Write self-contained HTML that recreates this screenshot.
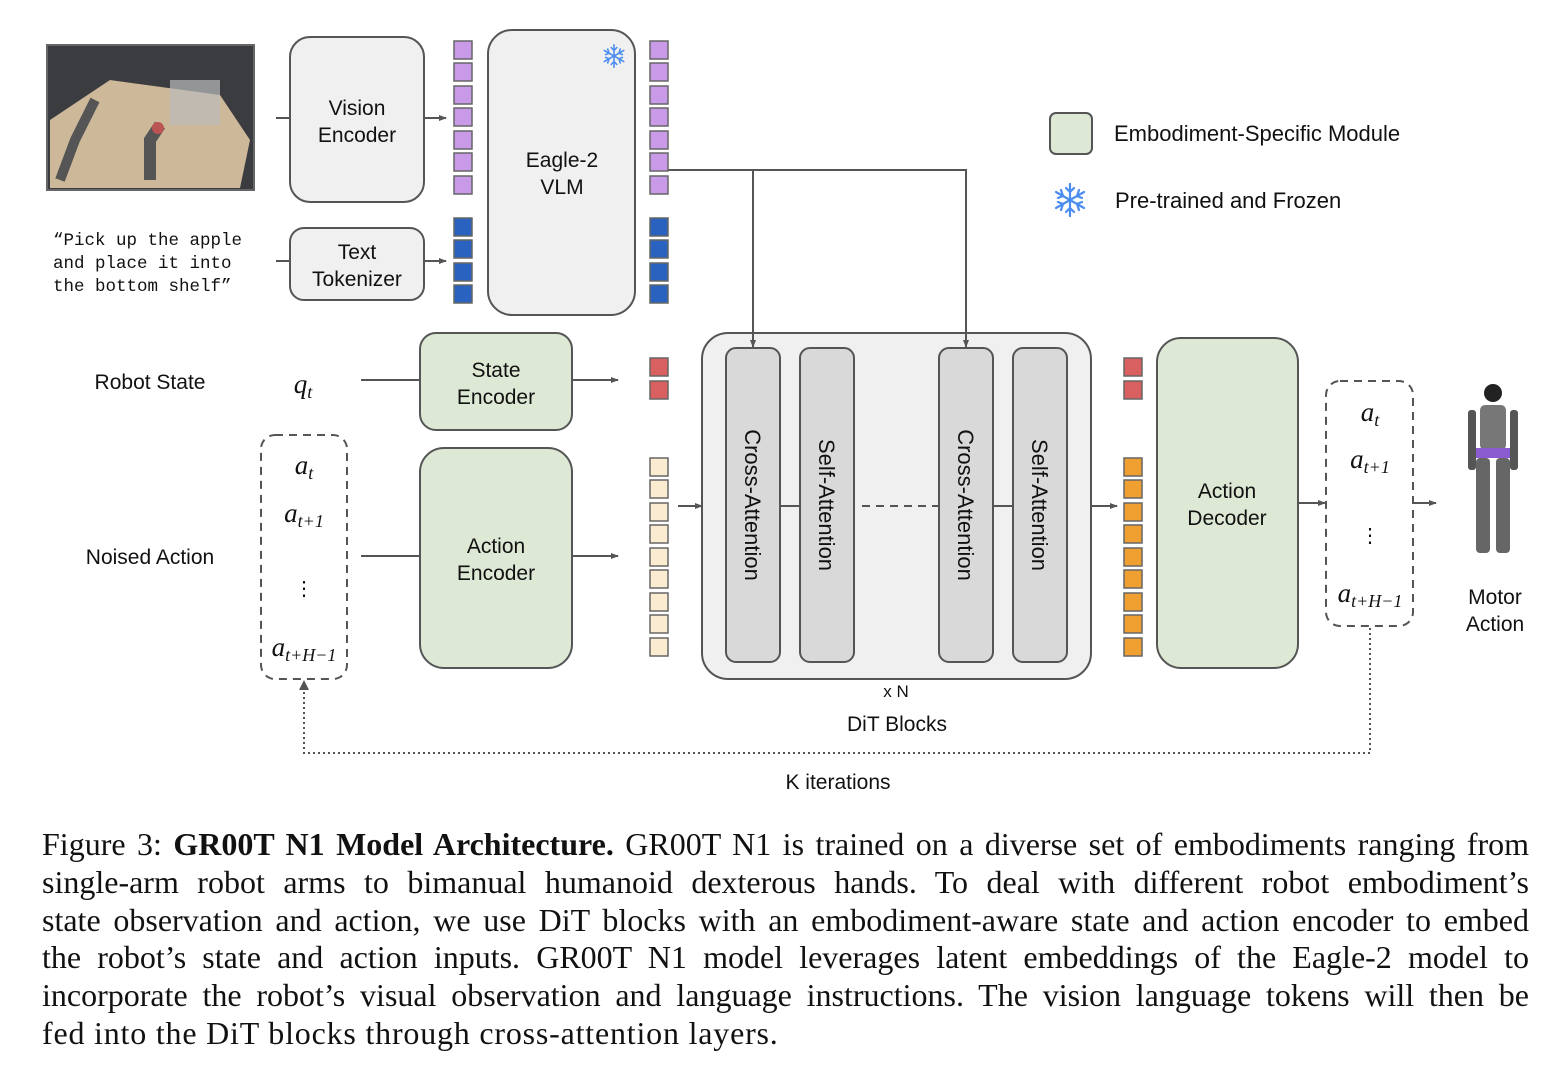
<!DOCTYPE html>
<html><head><meta charset="utf-8"><style>
body{margin:0;background:#fff;width:1560px;height:1088px;overflow:hidden;position:relative}
svg{position:absolute;left:0;top:0}
.cap{position:absolute;left:42px;top:826px;width:1487px;font-family:"Liberation Serif",serif;font-size:32px;line-height:37.8px;color:#111}
.cap div{text-align:justify;text-align-last:justify;white-space:nowrap}
.cap div.l{text-align-last:left;letter-spacing:0.8px}
</style></head><body>
<svg width="1560" height="1088" font-family="Liberation Sans, sans-serif">
<defs>
<marker id="a" markerWidth="8" markerHeight="8" refX="7" refY="4" orient="auto" markerUnits="userSpaceOnUse"><path d="M0,1 L8,4 L0,7z" fill="#555"/></marker>
<g id="flake" stroke="#4a8cf0" stroke-width="2.2" fill="none" stroke-linecap="round">
<line x1="0" y1="-16" x2="0" y2="16"/><line x1="-14" y1="-8" x2="14" y2="8"/><line x1="-14" y1="8" x2="14" y2="-8"/>
<path d="M-4,-12 L0,-8 L4,-12 M-4,12 L0,8 L4,12 M-12,-2 L-7,-4 L-9,-10 M12,2 L7,4 L9,10 M-12,2 L-7,4 L-9,10 M12,-2 L7,-4 L9,-10"/>
</g>
</defs>
<rect x="47" y="45" width="207" height="145" fill="#3a3c40" stroke="#666" stroke-width="2"/>
<polygon points="50,120 110,80 220,95 250,140 240,188 50,188" fill="#cdb89a"/>
<rect x="170" y="80" width="50" height="45" fill="#bbb" opacity=".7"/>
<path d="M60,180 L75,140 L95,100" stroke="#555" stroke-width="10" fill="none"/>
<path d="M150,180 L150,140 L160,125" stroke="#555" stroke-width="12" fill="none"/>
<circle cx="158" cy="128" r="6" fill="#b55"/>
<g fill="#f0f0f0" stroke="#555" stroke-width="2">
<rect x="290" y="37" width="134" height="165" rx="20"/>
<rect x="290" y="228" width="134" height="72" rx="14"/>
<rect x="488" y="30" width="147" height="285" rx="24"/>
<rect x="702" y="333" width="389" height="346" rx="26"/>
</g>
<g fill="#dde8d5" stroke="#555" stroke-width="2">
<rect x="420" y="333" width="152" height="97" rx="16"/>
<rect x="420" y="448" width="152" height="220" rx="24"/>
<rect x="1157" y="338" width="141" height="330" rx="24"/>
<rect x="1050" y="113" width="42" height="41" rx="6"/>
</g>
<g fill="#d9d9d9" stroke="#555" stroke-width="2">
<rect x="726" y="348" width="54" height="314" rx="10"/>
<rect x="800" y="348" width="54" height="314" rx="10"/>
<rect x="939" y="348" width="54" height="314" rx="10"/>
<rect x="1013" y="348" width="54" height="314" rx="10"/>
</g>
<g stroke="#555" stroke-width="2" fill="none">
<line x1="276" y1="118" x2="290" y2="118"/><line x1="276" y1="261" x2="290" y2="261"/>
<line x1="424" y1="118" x2="446" y2="118" marker-end="url(#a)"/>
<line x1="424" y1="261" x2="446" y2="261" marker-end="url(#a)"/>
<polyline points="668,170 966,170 966,347" marker-end="url(#a)"/>
<line x1="753" y1="170" x2="753" y2="347" marker-end="url(#a)"/>
<line x1="361" y1="380" x2="420" y2="380"/><line x1="572" y1="380" x2="618" y2="380" marker-end="url(#a)"/>
<line x1="361" y1="556" x2="420" y2="556"/><line x1="572" y1="556" x2="618" y2="556" marker-end="url(#a)"/>
<line x1="678" y1="506" x2="702" y2="506" marker-end="url(#a)"/>
<line x1="1091" y1="506" x2="1117" y2="506" marker-end="url(#a)"/>
<line x1="1298" y1="503" x2="1325" y2="503" marker-end="url(#a)"/>
<line x1="1413" y1="503" x2="1436" y2="503" marker-end="url(#a)"/>
<line x1="780" y1="506" x2="800" y2="506"/><line x1="993" y1="506" x2="1013" y2="506"/>
<line x1="862" y1="506" x2="939" y2="506" stroke-dasharray="8,6"/>
</g>
<g fill="none" stroke="#555" stroke-width="2" stroke-dasharray="8,6">
<rect x="261" y="435" width="86" height="244" rx="14"/>
<rect x="1326" y="381" width="87" height="245" rx="14"/>
</g>
<polyline points="1370,628 1370,753 304,753 304,688" fill="none" stroke="#555" stroke-width="2" stroke-dasharray="2,3"/>
<path d="M299,690 L304,680 L309,690" fill="#555"/>
<g stroke="#666" stroke-width="1.5">
<g fill="#c89ae8">
<rect x="454" y="41" width="18" height="18"/><rect x="454" y="63" width="18" height="18"/><rect x="454" y="86" width="18" height="18"/><rect x="454" y="108" width="18" height="18"/><rect x="454" y="131" width="18" height="18"/><rect x="454" y="153" width="18" height="18"/><rect x="454" y="176" width="18" height="18"/>
<rect x="650" y="41" width="18" height="18"/><rect x="650" y="63" width="18" height="18"/><rect x="650" y="86" width="18" height="18"/><rect x="650" y="108" width="18" height="18"/><rect x="650" y="131" width="18" height="18"/><rect x="650" y="153" width="18" height="18"/><rect x="650" y="176" width="18" height="18"/>
</g>
<g fill="#2a62c0">
<rect x="454" y="218" width="18" height="18"/><rect x="454" y="240" width="18" height="18"/><rect x="454" y="263" width="18" height="18"/><rect x="454" y="285" width="18" height="18"/>
<rect x="650" y="218" width="18" height="18"/><rect x="650" y="240" width="18" height="18"/><rect x="650" y="263" width="18" height="18"/><rect x="650" y="285" width="18" height="18"/>
</g>
<g fill="#d96060">
<rect x="650" y="358" width="18" height="18"/><rect x="650" y="381" width="18" height="18"/>
<rect x="1124" y="358" width="18" height="18"/><rect x="1124" y="381" width="18" height="18"/>
</g>
<g fill="#fbebd0">
<rect x="650" y="458" width="18" height="18"/><rect x="650" y="480" width="18" height="18"/><rect x="650" y="503" width="18" height="18"/><rect x="650" y="525" width="18" height="18"/><rect x="650" y="548" width="18" height="18"/><rect x="650" y="570" width="18" height="18"/><rect x="650" y="593" width="18" height="18"/><rect x="650" y="615" width="18" height="18"/><rect x="650" y="638" width="18" height="18"/>
</g>
<g fill="#f0a030">
<rect x="1124" y="458" width="18" height="18"/><rect x="1124" y="480" width="18" height="18"/><rect x="1124" y="503" width="18" height="18"/><rect x="1124" y="525" width="18" height="18"/><rect x="1124" y="548" width="18" height="18"/><rect x="1124" y="570" width="18" height="18"/><rect x="1124" y="593" width="18" height="18"/><rect x="1124" y="615" width="18" height="18"/><rect x="1124" y="638" width="18" height="18"/>
</g>
</g>
<use href="#flake" transform="translate(614,56) scale(0.7)"/>
<use href="#flake" transform="translate(1070,200)"/>
<g fill="#555">
<circle cx="1493" cy="393" r="9" fill="#222"/>
<rect x="1480" y="405" width="26" height="45" rx="5" fill="#777"/>
<rect x="1468" y="410" width="8" height="60" rx="3"/><rect x="1510" y="410" width="8" height="60" rx="3"/>
<rect x="1476" y="448" width="34" height="10" fill="#8a5cd0"/>
<rect x="1476" y="458" width="14" height="95" rx="4" fill="#666"/><rect x="1496" y="458" width="14" height="95" rx="4" fill="#666"/>
</g>
<g font-size="21" fill="#111" text-anchor="middle">
<text x="357" y="115">Vision</text><text x="357" y="142">Encoder</text>
<text x="357" y="259">Text</text><text x="357" y="286">Tokenizer</text>
<text x="562" y="167">Eagle-2</text><text x="562" y="194">VLM</text>
<text x="496" y="377">State</text><text x="496" y="404">Encoder</text>
<text x="496" y="553">Action</text><text x="496" y="580">Encoder</text>
<text x="1227" y="498">Action</text><text x="1227" y="525">Decoder</text>
<text x="150" y="389">Robot State</text>
<text x="150" y="564">Noised Action</text>
<text x="1495" y="604">Motor</text><text x="1495" y="631">Action</text>
<text x="897" y="731">DiT Blocks</text>
<text x="838" y="789">K iterations</text>
<text x="896" y="697" font-size="17">x N</text>
</g>
<g font-size="22" fill="#111" text-anchor="start">
<text x="1114" y="141">Embodiment-Specific Module</text>
<text x="1115" y="208">Pre-trained and Frozen</text>
</g>
<g font-size="22" fill="#111" text-anchor="middle">
<text transform="translate(745,505) rotate(90)">Cross-Attention</text>
<text transform="translate(819,505) rotate(90)">Self-Attention</text>
<text transform="translate(958,505) rotate(90)">Cross-Attention</text>
<text transform="translate(1032,505) rotate(90)">Self-Attention</text>
</g>
<g font-family="Liberation Mono, monospace" font-size="17.5" fill="#111">
<text x="53" y="245">“Pick up the apple</text>
<text x="53" y="268">and place it into</text>
<text x="53" y="291">the bottom shelf”</text>
</g>
<g font-family="Liberation Serif, serif" font-style="italic" fill="#111" font-size="27" text-anchor="middle">
<text x="303" y="393">q<tspan font-size="18" dy="5">t</tspan></text>
<text x="304" y="474">a<tspan font-size="18" dy="5">t</tspan></text>
<text x="304" y="522">a<tspan font-size="18" dy="5">t+1</tspan></text>
<text x="304" y="656">a<tspan font-size="18" dy="5">t+H−1</tspan></text>
<text x="1370" y="421">a<tspan font-size="18" dy="5">t</tspan></text>
<text x="1370" y="468">a<tspan font-size="18" dy="5">t+1</tspan></text>
<text x="1370" y="602">a<tspan font-size="18" dy="5">t+H−1</tspan></text>
<text x="304" y="595" font-style="normal" font-size="20">⋮</text>
<text x="1370" y="542" font-style="normal" font-size="20">⋮</text>
</g>
</svg>
<div class="cap">
<div>Figure 3: <b>GR00T N1 Model Architecture.</b> GR00T N1 is trained on a diverse set of embodiments ranging from</div>
<div>single-arm robot arms to bimanual humanoid dexterous hands. To deal with different robot embodiment’s</div>
<div>state observation and action, we use DiT blocks with an embodiment-aware state and action encoder to embed</div>
<div>the robot’s state and action inputs. GR00T N1 model leverages latent embeddings of the Eagle-2 model to</div>
<div>incorporate the robot’s visual observation and language instructions. The vision language tokens will then be</div>
<div class="l">fed into the DiT blocks through cross-attention layers.</div>
</div>
</body></html>
